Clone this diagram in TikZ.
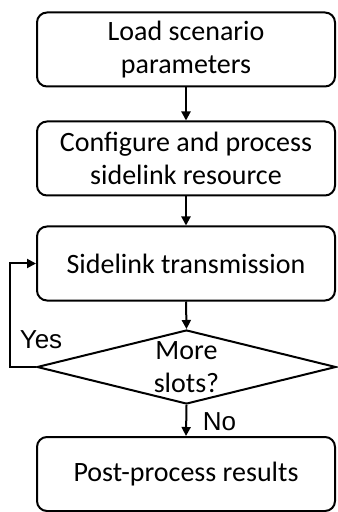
\documentclass[tikz,border=0pt]{standalone}
\usepackage{fontspec}
\setmainfont{Carlito}
\newfontfamily\labelfont{Liberation Sans}
\usetikzlibrary{positioning,arrows.meta,shapes.geometric}

\begin{document}
\begin{tikzpicture}[x=0.5pt,y=-0.5pt,
      every node/.style={font=\fontsize{14}{16.2}\selectfont},
      stepbox/.style={draw,line width=1pt,rounded corners=5pt,minimum width=149pt,minimum height=37pt,align=center},
      decbox/.style={draw,line width=1pt,diamond,aspect=4,inner sep=0pt,minimum width=149.5pt,minimum height=37pt,align=center},
      lbl/.style={font=\labelfont\fontsize{13}{15}\selectfont,inner sep=0pt},
      arr/.style={line width=1pt,-{Triangle[length=4.5pt,width=4.5pt]}}]
    \useasboundingbox (0,0) rectangle (337,512);
    % main column of steps
    \node[stepbox] (load) at (186,49.5) {Load scenario\\parameters};
    \node[stepbox] (conf) at (186,158.5) {Configure and process\\sidelink resource};
    \node[stepbox] (tx) at (186,263.5) {Sidelink transmission};
    \node[decbox] (more) at (186.5,367) {\fontsize{14}{17}\selectfont More\\slots?};
    \node[stepbox] (post) at (186,474) {Post-process results};
    % arrows down the column
    \draw[arr] (load.south) -- (conf.north);
    \draw[arr] (conf.south) -- (tx.north);
    \draw[arr] (tx.south) -- (more.north);
    \draw[arr] (more.south) -- (post.north);
    % loop back when more slots remain
    \coordinate (back) at (10,367);
    \draw[arr] (more.west) -- (back) |- (tx.west);
    \node[lbl] (yes) at (41,340) {Yes};
    \node[lbl] (no) at (219.5,422) {No};
\end{tikzpicture}
\end{document}
